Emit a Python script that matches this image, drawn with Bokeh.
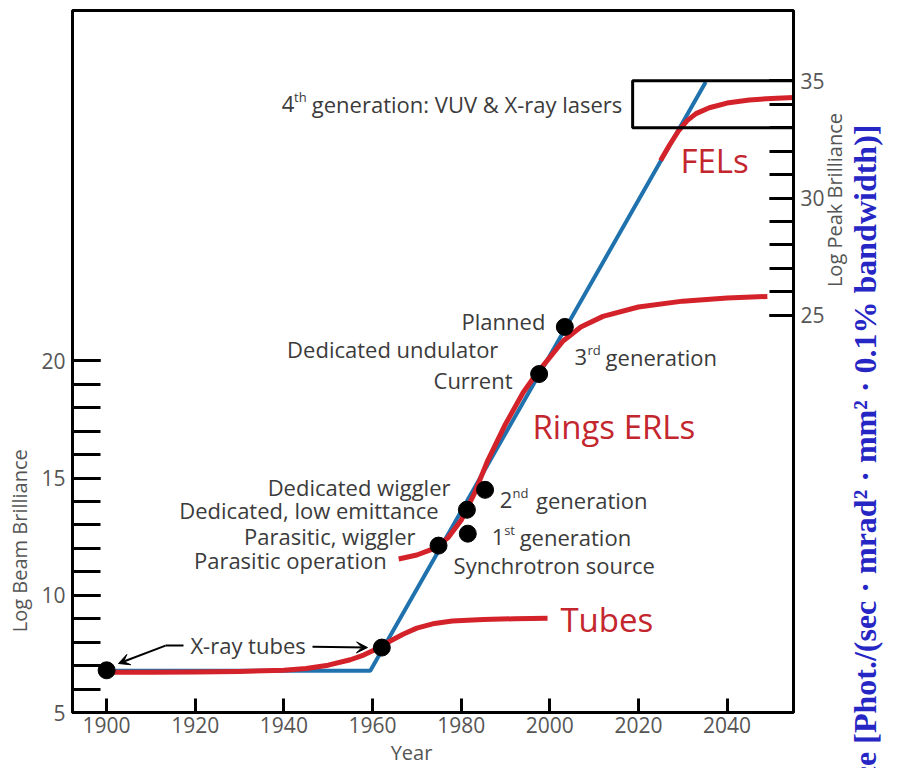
import math

from bokeh.embed import file_html
from bokeh.models import Arrow, FixedTicker, Label, LinearAxis, Range1d, VeeHead
from bokeh.plotting import figure
from bokeh.resources import INLINE

# ---- data -----------------------------------------------------------------
# envelope of achievable brilliance (blue)
blue_years = [1900, 1959.5, 2035.2]
blue_vals = [6.78, 6.78, 31.9]

# x-ray tubes (red)
tubes_years = [1900, 1910, 1920, 1930, 1940, 1945, 1950, 1955, 1958, 1961,
               1964, 1967, 1970, 1974, 1978, 1985, 1992, 1999.5]
tubes_vals = [6.72, 6.72, 6.73, 6.75, 6.8, 6.88, 7.02, 7.25, 7.45, 7.72,
              8.05, 8.35, 8.6, 8.8, 8.9, 8.97, 9.0, 9.02]

# storage rings / ERLs (red)
rings_years = [1965.9, 1970, 1974, 1977, 1980, 1983, 1986, 1990, 1994, 1997,
               2000, 2003, 2007, 2012, 2020, 2030, 2040, 2049.1]
rings_vals = [11.55, 11.72, 12.0, 12.45, 13.2, 14.35, 15.75, 17.3, 18.65, 19.45,
              20.15, 20.85, 21.45, 21.9, 22.3, 22.55, 22.68, 22.75]

# free-electron lasers (red)
fel_years = [2025, 2027, 2029, 2031, 2033, 2036, 2040, 2045, 2050, 2055]
fel_vals = [28.55, 29.2, 29.8, 30.25, 30.55, 30.8, 31.0, 31.13, 31.2, 31.24]

# individual sources (black dots)
source_names = ["X-ray tube", "X-ray tube (rotating anode)", "Parasitic operation",
                "1st generation", "Dedicated, low emittance", "Dedicated wiggler",
                "Current", "Planned"]
source_years = [1900, 1962.1, 1974.9, 1981.5, 1981.3, 1985.4, 1997.6, 2003.4]
source_vals = [6.8, 7.77, 12.12, 12.63, 13.65, 14.5, 19.44, 21.45]

# 4th generation band on the peak-brilliance scale
gen4_years = (2018.7, 2055.0)
gen4_peak = (33, 35)

year_ticks = [1900, 1920, 1940, 1960, 1980, 2000, 2020, 2040]
beam_ticks = [5, 10, 15, 20]
beam_minor = list(range(5, 21))
peak_ticks = [25, 30, 35]
peak_minor = list(range(25, 36))

# ---- styles -----------------------------------------------------------------
RED = "#d3222a"
RED_TEXT = "#c4262e"
BLUE = "#1f72ad"
TEXT = "#3b3b3b"
AXIS_TEXT = "#555555"
FONT = "Open Sans"

X0, X1 = 1892.3, 2055.0
Y0, Y1 = 5.0, 34.95
PEAK_OFFSET = 3.05

p = figure(width=903, height=768, x_range=Range1d(X0, X1), y_range=Range1d(Y0, Y1),
           output_backend="svg", toolbar_location=None,
           min_border_left=72, min_border_right=110, min_border_top=10, min_border_bottom=55,
           background_fill_color="white", border_fill_color="white",
           outline_line_color="black", outline_line_width=3)
p.extra_y_ranges = {"peak": Range1d(Y0 + PEAK_OFFSET, Y1 + PEAK_OFFSET)}
p.xgrid.visible = False
p.ygrid.visible = False


def style_axis(ax, tick_len, minor_len=0):
    ax.axis_line_color = "black"
    ax.axis_line_width = 3
    ax.major_tick_line_color = "black"
    ax.major_tick_line_width = 3
    ax.major_tick_in = tick_len
    ax.major_tick_out = 0
    ax.minor_tick_line_color = "black"
    ax.minor_tick_line_width = 3
    ax.minor_tick_in = minor_len
    ax.minor_tick_out = 0
    ax.major_label_text_font = FONT
    ax.major_label_text_font_size = "21px"
    ax.major_label_text_color = AXIS_TEXT
    ax.axis_label = None


left = p.left[0]
left.ticker = FixedTicker(ticks=beam_ticks, minor_ticks=beam_minor)
style_axis(left, 28, 28)
left.bounds = (5, 20)
left.major_label_standoff = 7

bottom = p.below[0]
bottom.ticker = FixedTicker(ticks=year_ticks, minor_ticks=[])
style_axis(bottom, 14)
bottom.bounds = (1900, 2040)
bottom.major_label_standoff = 4

right = LinearAxis(y_range_name="peak",
                   ticker=FixedTicker(ticks=peak_ticks, minor_ticks=peak_minor))
style_axis(right, 24, 24)
right.bounds = (25, 35)
right.major_label_standoff = 7
p.add_layout(right, "right")


def caption(side, at, text, standoff, orientation="horizontal", range_name="default",
            size="20px", color=AXIS_TEXT, font=FONT, style="normal"):
    # a tick-less axis whose single label carries an axis title
    kw = {"x_range_name": range_name} if side == "below" else {"y_range_name": range_name}
    ax = LinearAxis(ticker=FixedTicker(ticks=[at], minor_ticks=[]),
                    major_label_overrides={at: text},
                    major_label_orientation=orientation,
                    major_label_standoff=standoff,
                    major_label_text_font=font, major_label_text_font_size=size,
                    major_label_text_font_style=style, major_label_text_color=color,
                    axis_line_color=None, major_tick_in=0, major_tick_out=0,
                    minor_tick_in=0, minor_tick_out=0, **kw)
    p.add_layout(ax, side)


caption("left", 12.33, "Log Beam Brilliance", 5, orientation="parallel")
caption("below", 1968.8, "Year", 3)
caption("right", 26.2, "Log Peak Brilliance", 7, orientation=math.pi / 2, range_name="peak")
caption("right", 5.0, "Peak Brilliance [Phot./(sec · mrad² · mm² · 0.1% bandwidth)]", 0,
        orientation=math.pi / 2, size="32px", color="#2626c4",
        font="Liberation Serif", style="bold")

# ---- curves -----------------------------------------------------------------
p.line(blue_years, blue_vals, line_color=BLUE, line_width=4)
p.line(tubes_years, tubes_vals, line_color=RED, line_width=5, line_join="round")
p.line(rings_years, rings_vals, line_color=RED, line_width=5, line_join="round")
p.line(fel_years, fel_vals, line_color=RED, line_width=5, line_join="round")

p.quad(left=[gen4_years[0]], right=[gen4_years[1]], bottom=[gen4_peak[0]], top=[gen4_peak[1]],
       y_range_name="peak", fill_color=None, line_color="black", line_width=3)

p.scatter(source_years, source_vals, size=17, color="black")

# ---- arrows for the x-ray tube callout ----------------------------------------
p.segment(x0=[1917.35], y0=[7.855], x1=[1913.29], y1=[7.855], line_color="black", line_width=2)
p.add_layout(Arrow(x_start=1913.29, y_start=7.855, x_end=1902.68, y_end=7.09,
                   line_color="black", line_width=2,
                   end=VeeHead(size=11, fill_color="black", line_color="black")))
p.add_layout(Arrow(x_start=1946.46, y_start=7.81, x_end=1958.87, y_end=7.77,
                   line_color="black", line_width=2,
                   end=VeeHead(size=11, fill_color="black", line_color="black")))


# ---- text -------------------------------------------------------------------
def note(x, y, text, size="22px", color=TEXT, align="left", y_offset=0):
    p.add_layout(Label(x=x, y=y, text=text, text_font=FONT, text_font_size=size,
                       text_color=color, text_align=align, text_baseline="middle",
                       y_offset=y_offset))


SUP = "13px"
RAISE = 7

note(1939.5, 30.95, "4")
note(1942.3, 30.95, "th", size=SUP, y_offset=RAISE)
note(1946.3, 30.95, "generation: VUV & X-ray lasers")
note(2029.5, 28.56, "FELs", size="33px", color=RED_TEXT)

note(1999.0, 21.70, "Planned", align="right")
note(1988.4, 20.51, "Dedicated undulator", align="right")
note(2005.6, 20.17, "3")
note(2008.5, 20.17, "rd", size=SUP, y_offset=RAISE)
note(2012.6, 20.17, "generation")
note(1991.6, 19.19, "Current", align="right")
note(1996.1, 17.19, "Rings ERLs", size="33px", color=RED_TEXT)

note(1977.6, 14.63, "Dedicated wiggler", align="right")
note(1988.7, 14.08, "2")
note(1991.6, 14.08, "nd", size=SUP, y_offset=RAISE)
note(1996.9, 14.08, "generation")
note(1974.9, 13.65, "Dedicated, low emittance", align="right")
note(1969.7, 12.54, "Parasitic, wiggler", align="right")
note(1986.9, 12.50, "1")
note(1989.7, 12.50, "st", size=SUP, y_offset=RAISE)
note(1993.2, 12.50, "generation")
note(1963.2, 11.52, "Parasitic operation", align="right")
note(1978.3, 11.31, "Synchrotron source")

note(1918.9, 7.90, "X-ray tubes")
note(2002.4, 8.96, "Tubes", size="33px", color=RED_TEXT)

open("out.html", "w").write(file_html(p, INLINE))
